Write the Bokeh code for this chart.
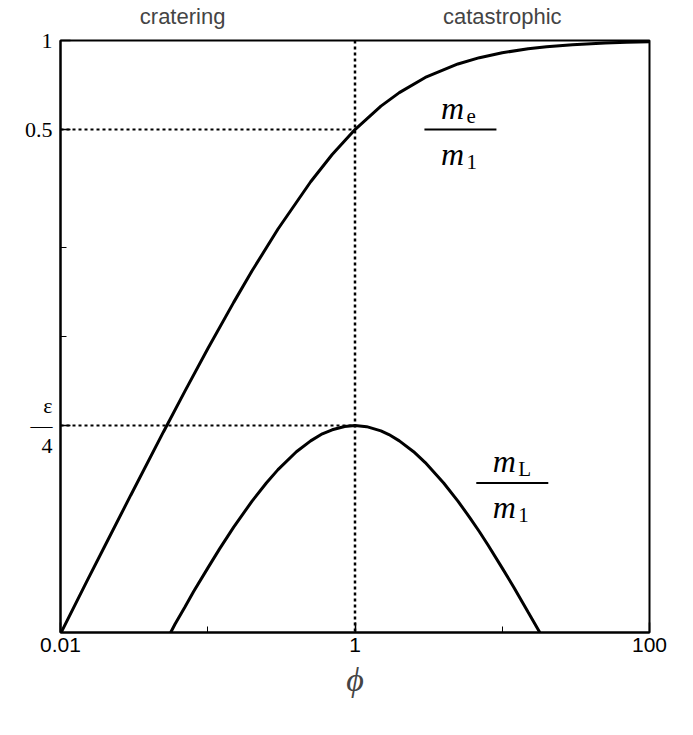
from bokeh.plotting import figure
from bokeh.models import FixedTicker, Span, LogAxis
from bokeh.core.properties import value
from bokeh.embed import file_html
from bokeh.resources import INLINE

# values
phi_e = [0.01, 0.015, 0.02, 0.03, 0.05, 0.07, 0.1, 0.15, 0.2, 0.3, 0.5, 0.7, 1,
         1.5, 2, 3, 5, 7, 10, 15, 20, 30, 50, 70, 100]
m_e = [0.0099, 0.0148, 0.0196, 0.0291, 0.0476, 0.0654, 0.0909, 0.1304, 0.1667,
       0.2308, 0.3333, 0.4118, 0.5, 0.6, 0.6667, 0.75, 0.8333, 0.875, 0.9091,
       0.9375, 0.9524, 0.9677, 0.9804, 0.9859, 0.9901]
phi_l = [0.056, 0.06, 0.07, 0.08, 0.1, 0.12, 0.15, 0.2, 0.25, 0.3, 0.4, 0.5, 0.6,
         0.7, 0.85, 1, 1.2, 1.5, 1.7, 2, 2.5, 3, 4, 5, 6, 7, 8, 10, 12, 15, 18]
m_l = [0.0100, 0.01068, 0.0122, 0.01372, 0.0165, 0.01913, 0.0227, 0.0278, 0.032,
       0.0355, 0.0408, 0.0444, 0.0469, 0.0484, 0.04967, 0.05, 0.04959, 0.048,
       0.04664, 0.0444, 0.04082, 0.0375, 0.032, 0.0278, 0.02449, 0.0219, 0.01975,
       0.0165, 0.0142, 0.0117, 0.0100]
eps4 = 0.05
x_ticks = [0.01, 1, 100]
regime_x = [0.0675, 10]
regime_names = ["cratering", "catastrophic"]
serif = "Liberation Serif"
sans = "Liberation Sans"

p = figure(width=677, height=719, x_axis_type="log", y_axis_type="log",
           x_range=(0.01, 100), y_range=(0.01, 1),
           output_backend="svg", toolbar_location=None,
           min_border_left=60, min_border_right=28, min_border_top=10,
           min_border_bottom=87)
p.grid.visible = False
p.outline_line_color = "black"
p.outline_line_width = 2

for ax in (p.xaxis[0], p.yaxis[0]):
    ax.major_tick_in = 10
    ax.major_tick_out = 0
    ax.minor_tick_in = 6
    ax.minor_tick_out = 0
    ax.axis_line_width = 2
    ax.major_tick_line_width = 1.5
    ax.major_label_text_color = "black"

p.xaxis.ticker = FixedTicker(ticks=x_ticks, minor_ticks=[0.1, 10])
p.xaxis.major_label_overrides = {0.01: "0.01", 1: "1", 100: "100"}
p.xaxis.major_label_text_font = sans
p.xaxis.major_label_text_font_size = "21px"
p.xaxis.axis_label = "ϕ"
p.xaxis.axis_label_text_font = serif
p.xaxis.axis_label_text_font_style = "italic"
p.xaxis.axis_label_text_font_size = "34px"
p.xaxis.axis_label_standoff = 6

p.yaxis.ticker = FixedTicker(ticks=[eps4, 0.5, 1], minor_ticks=[0.1, 0.2])
p.yaxis.major_label_overrides = {eps4: "ε\n—\n4", 0.5: "0.5", 1: "1"}
p.yaxis.major_label_text_font = serif
p.yaxis.major_label_text_font_size = "22px"
p.yaxis.major_label_standoff = 8
p.yaxis.major_label_text_line_height = 0.8

# regime names along the top
top = LogAxis(ticker=FixedTicker(ticks=regime_x, minor_ticks=[]),
              major_label_overrides=dict(zip(regime_x, regime_names)),
              axis_line_color=None, major_tick_line_color=None,
              major_label_text_font=sans, major_label_text_font_size="22px",
              major_label_standoff=6)
p.add_layout(top, "above")

# dotted guides
p.line([0.01, 1], [0.5, 0.5], line_color="black", line_width=2, line_dash="3 3")
p.line([0.01, 1], [eps4, eps4], line_color="black", line_width=2, line_dash="3 3")
p.add_layout(Span(location=1, dimension="height", line_color="black",
                  line_width=2.5, line_dash="3 3"))

# curves
p.line(phi_e, m_e, line_color="black", line_width=3)
p.line(phi_l, m_l, line_color="black", line_width=3)


def frac(x, y, num, num_sub, den, den_sub, half=36):
    f = 10 ** (half / 147.25)
    p.segment(x0=[x / f], x1=[x * f], y0=[y], y1=[y], line_color="black", line_width=2)
    for t, sub, dy in ((num, num_sub, -22), (den, den_sub, 24)):
        p.text([x], [y], text=[t], x_offset=-8, y_offset=dy,
               text_align="center", text_baseline="middle",
               text_font=value(serif), text_font_style="italic", text_font_size="32px")
        p.text([x], [y], text=[sub], x_offset=6, y_offset=dy + 8,
               text_align="left", text_baseline="middle",
               text_font=value(serif), text_font_size="21px")


frac(5.2, 0.5, "m", "e", "m", "1")
frac(11.7, 0.032, "m", "L", "m", "1")

open("out.html", "w").write(file_html(p, INLINE))
